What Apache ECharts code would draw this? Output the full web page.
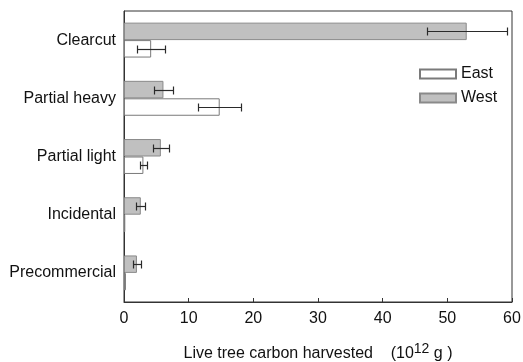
<!DOCTYPE html>
<html><head><meta charset="utf-8">
<script src="https://cdn.jsdelivr.net/npm/echarts@6/dist/echarts.min.js"></script>
<style>html,body{margin:0;padding:0;background:#fff}#c{width:523px;height:362px}</style>
</head><body><div id="c"></div>
<script>
var categories = ['Precommercial', 'Incidental', 'Partial light', 'Partial heavy', 'Clearcut'];
var eastValues = [0.3, 0.2, 3.0, 14.8, 4.2];
var eastErrors = [0, 0, 0.6, 3.3, 2.2];
var westValues = [2.0, 2.6, 5.7, 6.1, 53.0];
var westErrors = [0.65, 0.7, 1.2, 1.4, 6.2];
var xTicks = [0, 10, 20, 30, 40, 50, 60];

var chart = echarts.init(document.getElementById('c'));
var font = 'Liberation Sans, Arial, sans-serif';

function errData(vals, errs, sign) {
  var out = [];
  for (var i = 0; i < vals.length; i++) {
    if (errs[i] > 0) out.push([vals[i] - errs[i], vals[i] + errs[i], i, sign]);
  }
  return out;
}
function renderErr(params, api) {
  var lo = api.value(0), hi = api.value(1), ci = api.value(2), sign = api.value(3);
  var band = api.size([0, 1])[1];
  var off = sign * band * 0.15;
  var p1 = api.coord([lo, ci]), p2 = api.coord([hi, ci]);
  var y = Math.round(p1[1] + off) + 0.5;
  var x1 = Math.round(p1[0]) + 0.5, x2 = Math.round(p2[0]) + 0.5;
  var cap = 4;
  var st = { stroke: '#2a2a2a', lineWidth: 1.2 };
  return { type: 'group', children: [
    { type: 'line', shape: { x1: x1, y1: y, x2: x2, y2: y }, style: st },
    { type: 'line', shape: { x1: x1, y1: y - cap, x2: x1, y2: y + cap }, style: st },
    { type: 'line', shape: { x1: x2, y1: y - cap, x2: x2, y2: y + cap }, style: st }
  ]};
}

chart.setOption({
  animation: false,
  textStyle: { fontFamily: font },
  grid: { left: 124, right: 11, top: 11, bottom: 60, outerBoundsMode: 'none', containLabel: false,
    show: true, borderColor: '#333', borderWidth: 1, backgroundColor: '#fff' },
  legend: {
    data: ['East', 'West'], orient: 'vertical', left: 414, top: 61,
    icon: 'rect', itemWidth: 36, itemHeight: 9, itemGap: 8,
    textStyle: { fontSize: 16, color: '#111', fontFamily: font }
  },
  xAxis: {
    type: 'value', min: 0, max: 60, interval: 10,
    axisLine: { show: true, lineStyle: { color: '#333' } },
    axisTick: { show: true, inside: true, length: 4, lineStyle: { color: '#333' } },
    splitLine: { show: false },
    axisLabel: { fontSize: 16, color: '#111', margin: 9, fontFamily: font },
    name: '{a|Live tree carbon harvested    (10}{s|12}{a| g )}',
    nameLocation: 'middle', nameGap: 40,
    nameTextStyle: { rich: {
      a: { fontSize: 16, color: '#111', fontFamily: font, verticalAlign: 'bottom', lineHeight: 20 },
      s: { fontSize: 14, color: '#111', fontFamily: font, verticalAlign: 'top', padding: [0, 0, 10, 0], lineHeight: 20 }
    } }
  },
  yAxis: {
    type: 'category', data: categories,
    axisLine: { show: true, lineStyle: { color: '#333' } },
    axisTick: { show: false },
    axisLabel: { fontSize: 16, color: '#111', margin: 8, fontFamily: font }
  },
  series: [
    { name: 'West', type: 'bar', data: westValues, barGap: '0%', barCategoryGap: '40%',
      itemStyle: { color: '#c0c0c0', borderColor: '#8a8a8a', borderWidth: 1 } },
    { name: 'East', type: 'bar', data: eastValues, barGap: '0%', barCategoryGap: '40%',
      itemStyle: { color: '#fff', borderColor: '#7a7a7a', borderWidth: 1 } },
    { type: 'custom', renderItem: renderErr, data: errData(westValues, westErrors, -1),
      encode: { x: [0, 1], y: 2 }, z: 5 },
    { type: 'custom', renderItem: renderErr, data: errData(eastValues, eastErrors, 1),
      encode: { x: [0, 1], y: 2 }, z: 5 }
  ]
});
</script></body></html>
